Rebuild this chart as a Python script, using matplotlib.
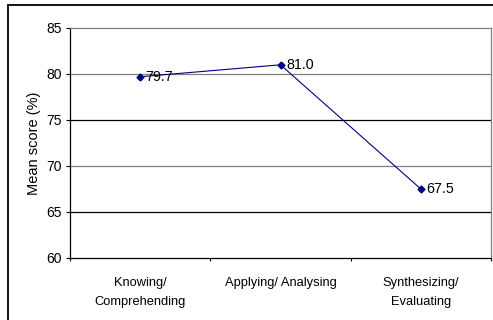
import matplotlib
matplotlib.use("Agg")
import matplotlib.pyplot as plt
from matplotlib.patches import Rectangle

categories = ["Knowing/\nComprehending", "Applying/ Analysing", "Synthesizing/\nEvaluating"]
scores = [79.7, 81.0, 67.5]
y_ticks = [60, 65, 70, 75, 80, 85]

W, H = 493, 320
fig = plt.figure(figsize=(W / 100, H / 100), dpi=100)
plt.rcParams["font.family"] = ["Liberation Sans", "DejaVu Sans"]

# outer chart frame
fig.patches.append(Rectangle((8 / W, -0.1), 1.2, (H - 5) / H + 0.1,
                             transform=fig.transFigure, fill=False,
                             edgecolor="black", linewidth=1.3, zorder=0))

left, right, top, bottom = 70, 491, 28, 258
ax = fig.add_axes([left / W, 1 - bottom / H, (right - left) / W, (bottom - top) / H])

x = list(range(len(categories)))
ax.set_xlim(-0.5, len(categories) - 0.5)
ax.set_ylim(60, 85)
ax.set_yticks(y_ticks)
ax.set_yticklabels([str(v) for v in y_ticks], fontsize=10)
ax.set_xticks(x)
ax.set_xticklabels(categories, fontsize=9.3, linespacing=1.75)
ax.set_xticks([i - 0.5 for i in range(len(categories) + 1)], minor=True)
ax.tick_params(axis="x", which="major", length=0, pad=14)
ax.tick_params(axis="x", which="minor", length=2.5, width=0.8, direction="out")
ax.tick_params(axis="y", length=3, width=0.8, direction="out", pad=3)

grid_colors = {65: "black", 70: "#808080", 75: "black", 80: "#808080"}
for v, c in grid_colors.items():
    ax.axhline(v, color=c, linewidth=0.9, zorder=1)

for side in ("top", "right"):
    ax.spines[side].set_color("#808080")
    ax.spines[side].set_linewidth(0.9)
for side in ("left", "bottom"):
    ax.spines[side].set_color("black")
    ax.spines[side].set_linewidth(0.9)

ax.plot(x, scores, color="#000080", linewidth=0.8, marker="D", markersize=3.5,
        markerfacecolor="#000080", markeredgecolor="#000080", zorder=3)
for xi, s in zip(x, scores):
    ax.annotate(f"{s:.1f}", (xi, s), xytext=(4, 0), textcoords="offset points",
                va="center", ha="left", fontsize=10.3, zorder=4)

ax.set_ylabel("Mean score (%)", fontsize=10.5, labelpad=4)

fig.savefig("out.png", dpi=100)
